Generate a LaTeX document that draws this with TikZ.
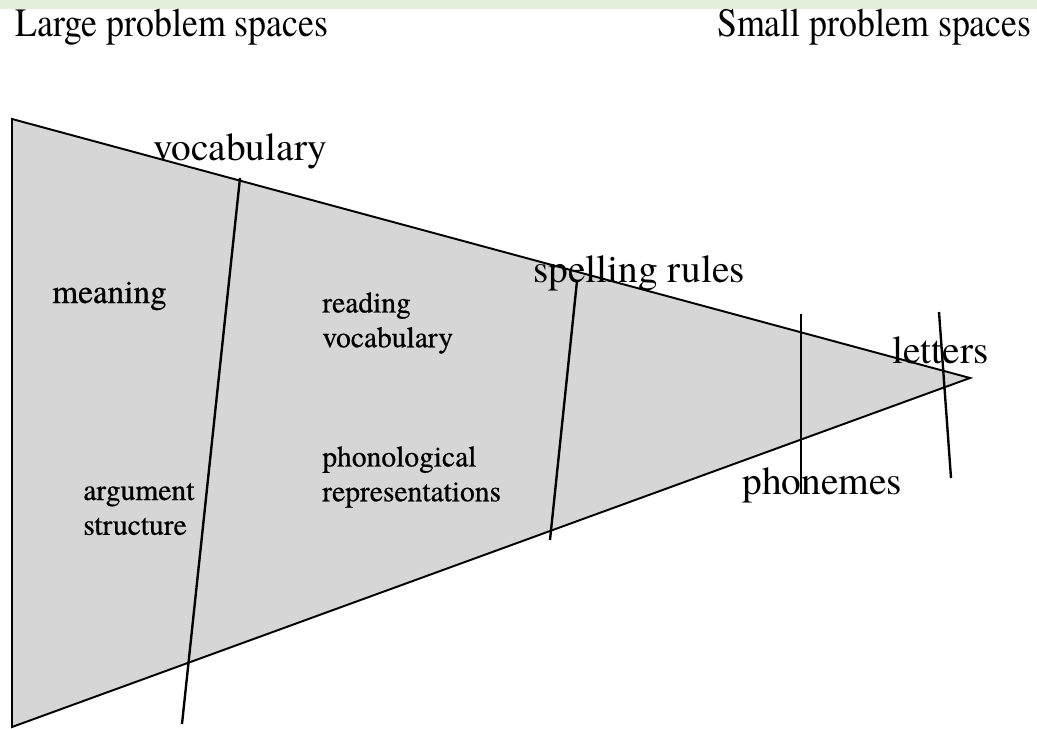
\documentclass[tikz,border=0pt]{standalone}
\usepackage{fontspec}
\setmainfont{texgyretermes}[Extension=.otf,UprightFont=*-regular,BoldFont=*-bold]
\newfontface\regionface{texgyretermes-regular.otf}[FakeBold=0.6]
\usetikzlibrary{positioning}
\definecolor{wedgegray}{RGB}{214,214,214}
\definecolor{stripgreen}{RGB}{226,239,218}

\begin{document}
\begin{tikzpicture}
    [x=0.02cm,y=-0.02cm,every node/.style={inner sep=0pt},
    title/.style={font=\fontsize{20.4}{22}\selectfont},
    edgelabel/.style={font=\fontsize{22.4}{24}\selectfont},
    region/.style={font=\regionface\fontsize{16.8}{19.8}\selectfont,align=left},
    divider/.style={line width=1.35pt}]
      \fill[stripgreen] (0,0) rectangle (1037,9);
      \useasboundingbox (0,0) rectangle (1037,729);
      %\draw (0,0) grid[step=100] (1037,729);
      \coordinate (wideTop) at (12,119);
      \coordinate (wideBot) at (12,727);
      \coordinate (tip) at (970,378);
      \filldraw[fill=wedgegray,line width=1.1pt] (wideTop) -- (tip) -- (wideBot) -- cycle;
      \draw[line width=1.6pt] (wideTop) -- (wideBot);
      \coordinate (vocTop) at (240,178);
      \coordinate (vocBot) at (182,724);
      \coordinate (spTop) at (577,281);
      \coordinate (spBot) at (550,540);
      \coordinate (phTop) at (801,314);
      \coordinate (phBot) at (801,494);
      \coordinate (leTop) at (939,312);
      \coordinate (leBot) at (951,478);
      \foreach \cut in {voc,sp,ph,le}
        \draw[divider] (\cut Top) -- (\cut Bot);
      \node[title,anchor=base west] (large) at (15,37) {\scalebox{1}[1.12]{Large problem spaces}};
      \node[title,anchor=base east] (small) at (1032,37) {\scalebox{1}[1.12]{Small problem spaces}};
      \node[edgelabel,anchor=base west] (vocab) at (153,161) {vocabulary};
      \node[edgelabel,anchor=base west] (spell) at (533,283) {spelling rules};
      \node[edgelabel,anchor=base west] (letters) at (892,363) {letters};
      \node[edgelabel,anchor=base west] (phon) at (742,494) {phonemes};
      \node[region,font=\regionface\fontsize{18.9}{20}\selectfont,anchor=base west] (meaning) at (52,303) {meaning};
      \node[region,anchor=west] (reading) at (322,323) {reading\\vocabulary};
      \node[region,anchor=west] (phonol) at (322,477) {phonological\\representations};
      \node[region,anchor=west] (argument) at (83,509) {argument\\structure};
\end{tikzpicture}
\end{document}
